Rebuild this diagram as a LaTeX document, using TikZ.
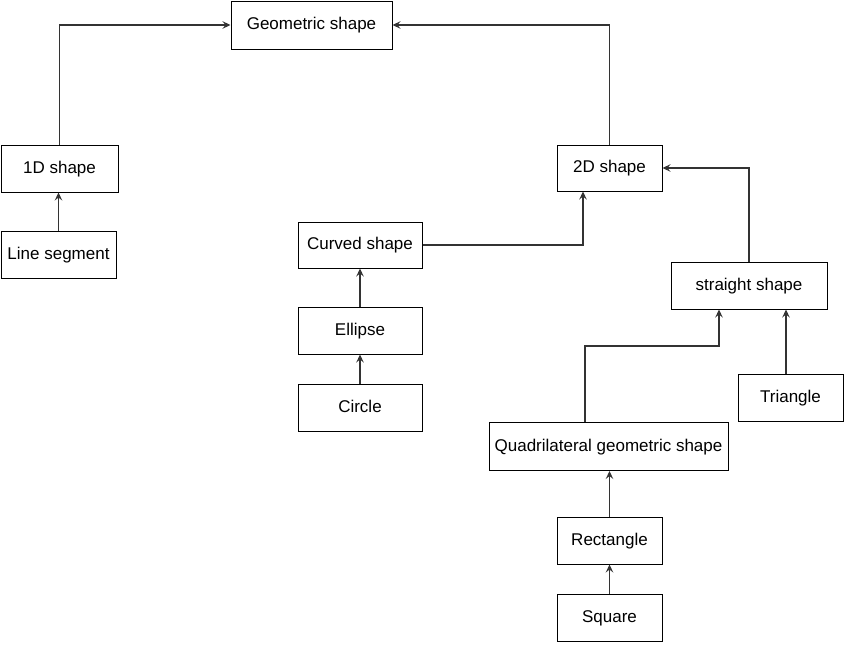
\documentclass[tikz,border=0pt]{standalone}
\usepackage{fontspec}
\setmainfont{Liberation Sans}
\usetikzlibrary{arrows.meta}
\begin{document}
\begin{tikzpicture}[x=1pt,y=-1pt,
  box/.style={draw=black,line width=1pt,fill=white,inner sep=0pt,text height=12.5pt,text depth=3.5pt,font=\fontsize{17}{20}\selectfont},
  arr/.style={draw=black!80,line width=1.1pt,-{Stealth[length=8pt,width=7.5pt,inset=3pt]}}]
\useasboundingbox (0,0) rectangle (845,645);
\node[box,minimum width=161pt,minimum height=48pt] (geo) at (311.5,25) {Geometric shape};
\node[box,minimum width=117pt,minimum height=47pt] (d1) at (59.5,168.5) {1D shape};
\node[box,minimum width=115pt,minimum height=47pt] (line) at (58.5,254.5) {Line segment};
\node[box,minimum width=105pt,minimum height=46pt] (d2) at (609.5,168) {2D shape};
\node[box,minimum width=124pt,minimum height=46pt] (curved) at (360,245) {Curved shape};
\node[box,minimum width=124pt,minimum height=47pt] (ellipse) at (360,330.5) {Ellipse};
\node[box,minimum width=124pt,minimum height=47pt] (circle) at (360,407.5) {Circle};
\node[box,minimum width=156pt,minimum height=47pt] (straight) at (749,285.5) {straight shape};
\node[box,minimum width=105pt,minimum height=47pt] (triangle) at (790.5,397.5) {Triangle};
\node[box,minimum width=239pt,minimum height=48pt] (quad) at (608.5,446.5) {Quadrilateral geometric shape};
\node[box,minimum width=105pt,minimum height=47pt] (rect) at (609.5,540.5) {Rectangle};
\node[box,minimum width=105pt,minimum height=47pt] (square) at (609.5,617.5) {Square};

\draw[arr] (d1.north) |- (geo.west);
\draw[arr] (d2.north) |- (geo.east);
\draw[arr] (line.north) -- (line.north |- d1.south);
\draw[arr] (curved.east) -| ([xshift=-26.5pt]d2.south);
\draw[arr] (straight.north) |- (d2.east);
\draw[arr] (ellipse.north) -- (curved.south);
\draw[arr] (circle.north) -- (ellipse.south);
\draw[arr] ([xshift=-4.5pt]triangle.north) -- ([xshift=-4.5pt]triangle.north |- straight.south);
\draw[arr] ([xshift=-23.5pt]quad.north) |- ([xshift=-30pt,yshift=-36.5pt]straight.south) -- ([xshift=-30pt]straight.south);
\draw[arr] (rect.north) -- (rect.north |- quad.south);
\draw[arr] (square.north) -- (rect.south);
\end{tikzpicture}
\end{document}
